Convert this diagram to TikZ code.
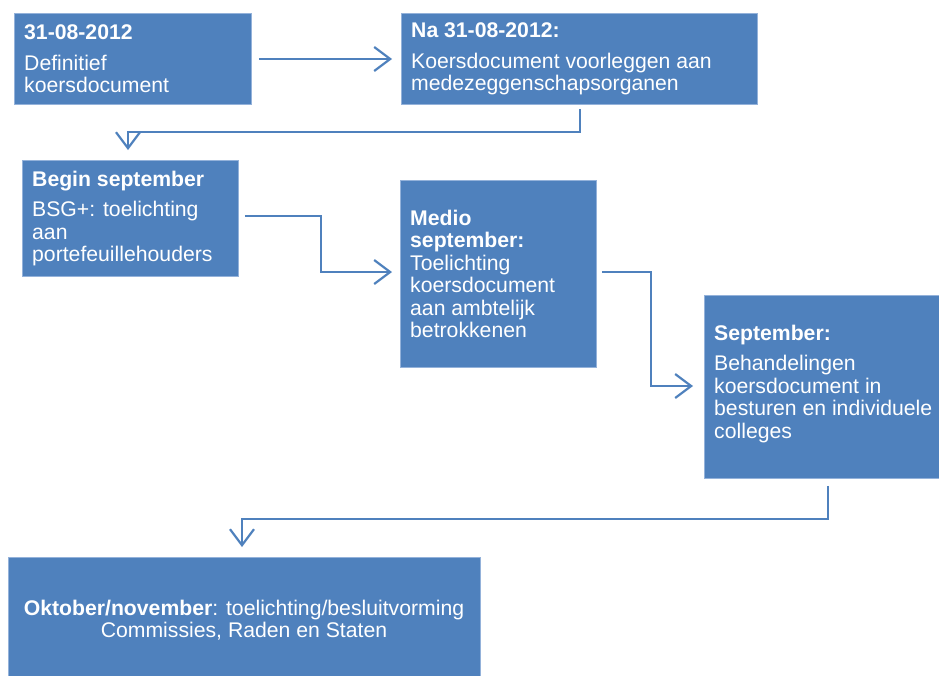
\documentclass[tikz,border=0pt]{standalone}
\usepackage{fontspec}
\setmainfont{Liberation Sans}
\usetikzlibrary{arrows.meta,calc}
\definecolor{boxblue}{HTML}{4F81BD}
\definecolor{boxedge}{HTML}{94B2DA}
\begin{document}
\begin{tikzpicture}[x=1pt,y=-1pt,
  box/.style={draw=boxedge,line width=0.8pt,fill=boxblue,anchor=north west,inner sep=0pt},
  txt/.style={anchor=west,inner sep=0pt,align=left,text=white,font=\fontsize{21.2}{22.5}\selectfont},
  arr/.style={draw=boxblue,line width=2.2pt,-{Straight Barb[length=16pt,width=24pt,line width=2.2pt]}}]
\useasboundingbox (0,0) rectangle (939,675);
% boxes
\node[box,minimum width=237pt,minimum height=91pt] (b1) at (14,13) {};
\node[box,minimum width=356pt,minimum height=91pt] (b2) at (401,13) {};
\node[box,minimum width=216pt,minimum height=116pt] (b3) at (22,160) {};
\node[box,minimum width=196pt,minimum height=187pt] (b4) at (400,180) {};
\node[box,minimum width=240pt,minimum height=183pt] (b5) at (704,295) {};
\node[box,minimum width=472pt,minimum height=125pt] (b6) at (8,557) {};
% texts
\node[txt] (t1) at ($(b1.west)+(10,0)$) {\textbf{31-08-2012}\\[8pt]Definitief\\koersdocument};
\node[txt] (t2) at ($(b2.west)+(10,0)$) {\textbf{Na 31-08-2012:}\\[8pt]Koersdocument voorleggen aan\\medezeggenschapsorganen};
\node[txt] (t3) at ($(b3.west)+(10,0)$) {\textbf{Begin september}\\[8pt]BSG+: toelichting\\aan\\portefeuillehouders};
\node[txt] (t4) at ($(b4.west)+(10,0)$) {\textbf{Medio}\\\textbf{september:}\\Toelichting\\koersdocument\\aan ambtelijk\\betrokkenen};
\node[txt] (t5) at ($(b5.north west)+(10,89)$) {\textbf{September:}\\[8pt]Behandelingen\\koersdocument in\\besturen en individuele\\colleges};
\node[txt,anchor=center,align=center] (t6) at (244,620) {\textbf{Oktober/november}: toelichting/besluitvorming\\Commissies, Raden en Staten};
% connectors
\coordinate (s1) at ($(b1.north east)+(7,46)$);
\draw[arr] (s1) -- ($(b2.north west)+(-9,46)$);
\coordinate (s2) at ($(b2.south west)+(179,4)$);
\draw[arr] (s2) -- ++(0,23) -| ($(b3.north west)+(106,-10)$);
\coordinate (s3) at ($(b3.north east)+(6,56)$);
\draw[arr] (s3) -- ++(76,0) |- ($(b4.north west)+(-8,92)$);
\coordinate (s4) at ($(b4.north east)+(5,92)$);
\draw[arr] (s4) -- ++(49,0) |- ($(b5.north west)+(-11,91)$);
\coordinate (s5) at ($(b5.south west)+(124,7)$);
\draw[arr] (s5) -- ++(0,33) -| ($(b6.north west)+(234,-10)$);
\end{tikzpicture}
\end{document}
